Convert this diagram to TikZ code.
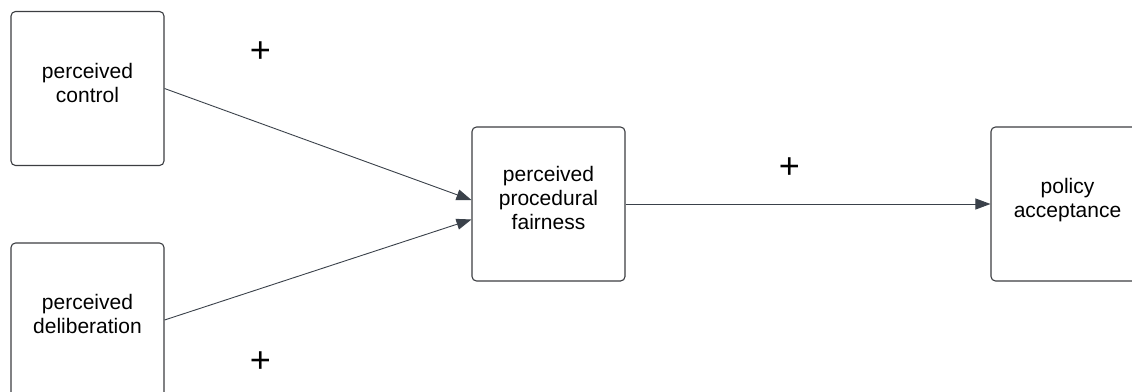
\documentclass[tikz,border=0pt]{standalone}
\usepackage{fontspec}
\setmainfont{Liberation Sans}
\usetikzlibrary{arrows.meta}
\definecolor{boxline}{RGB}{60,62,66}
\definecolor{arrowc}{RGB}{58,65,74}
\tikzset{
  box/.style={draw=boxline, line width=1.1pt, rounded corners=4.5pt, fill=white,
    minimum width=153pt, minimum height=154pt, inner sep=0pt, align=center,
    font=\fontsize{21}{24}\selectfont, text depth=12pt},
  conn/.style={draw=arrowc, line width=0.9pt, -{Triangle[length=15pt,width=11pt]}},
  sign/.style={font=\fontsize{36}{36}\selectfont, inner sep=0pt}
}
\begin{document}
\begin{tikzpicture}[x=1pt,y=-1pt]
\useasboundingbox (0,0) rectangle (1132,391);
\clip (0,0) rectangle (1132,391);
\node[box] (ctrl) at (87.5,88.5) {perceived\\control};
\node[box] (delib) at (87.5,320) {perceived\\deliberation};
\node[box] (fair) at (548.5,204) {perceived\\procedural\\fairness};
\node[box] (pol) at (1067.5,204) {policy\\acceptance};
\node[sign] (p1) at (260.5,52.5) {+};
\node[sign] (p2) at (260.5,362.5) {+};
\node[sign] (p3) at (789.3,168.3) {+};
\draw[conn] (ctrl.east) -- ([yshift=4pt]fair.west);
\draw[conn] (delib.east) -- ([yshift=-15.5pt]fair.west);
\draw[conn] (fair.east) -- (pol.west);
\end{tikzpicture}
\end{document}
